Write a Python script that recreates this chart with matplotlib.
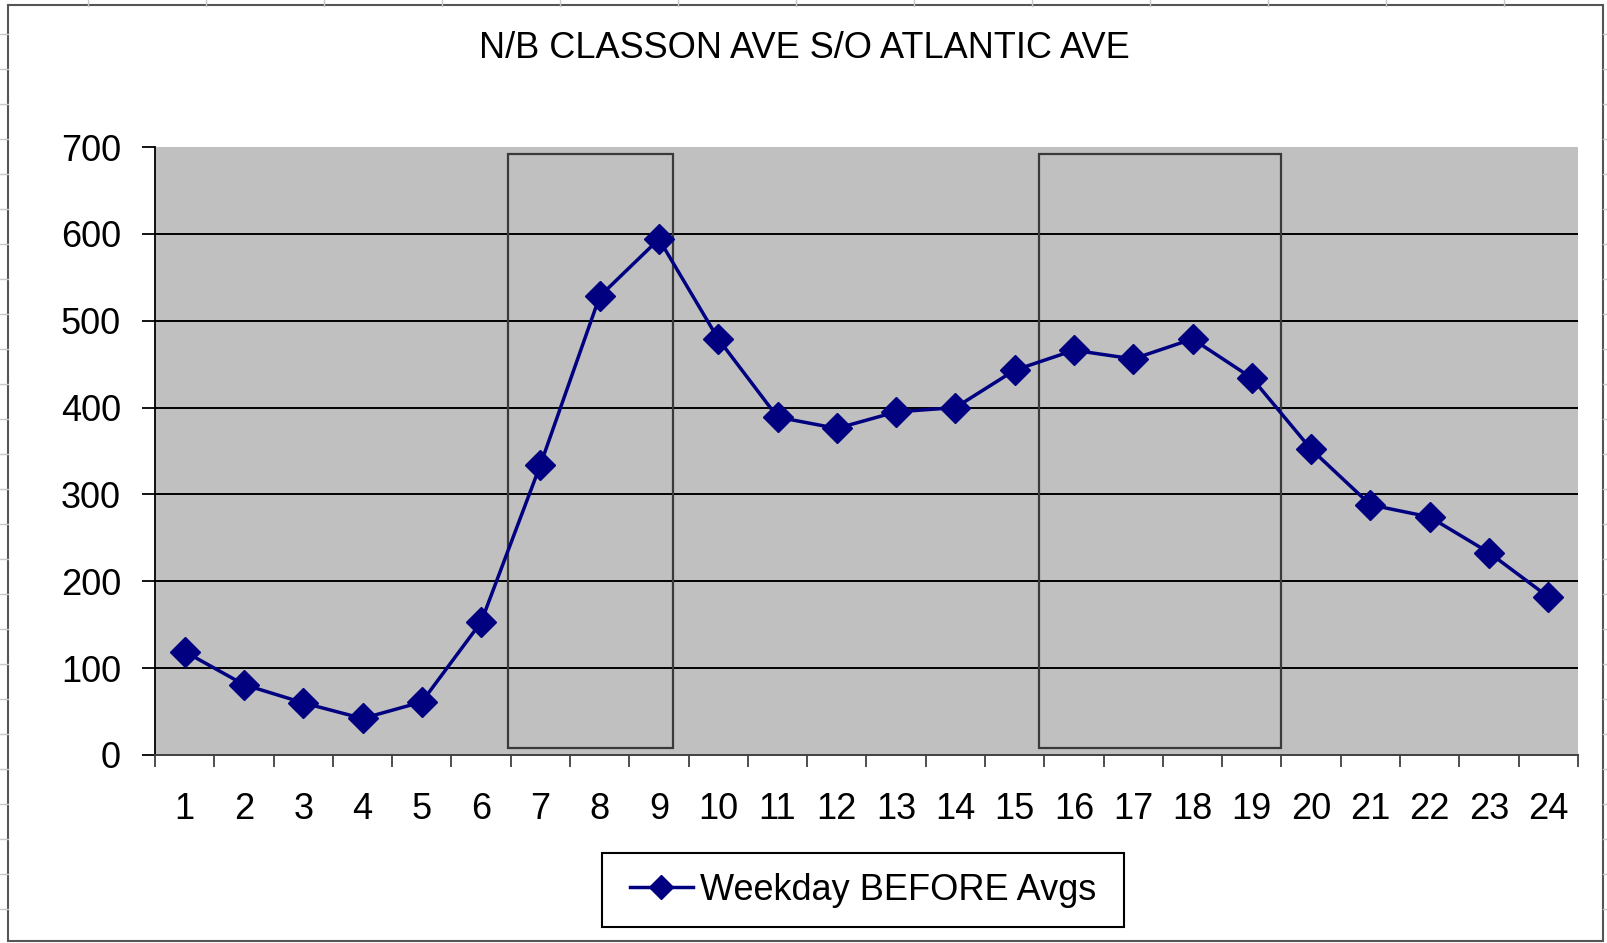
import matplotlib.pyplot as plt
from matplotlib.lines import Line2D
from matplotlib.patches import Rectangle

plt.rcParams['font.family'] = ['Liberation Sans', 'DejaVu Sans']

title = "N/B CLASSON AVE S/O ATLANTIC AVE"
series_label = "Weekday BEFORE Avgs"

hours = list(range(1, 25))
weekday_before = [119, 81, 60, 42, 61, 153, 334, 528, 594, 479, 389, 376,
                  395, 400, 443, 466, 456, 479, 434, 352, 288, 274, 233, 182]

y_ticks = [0, 100, 200, 300, 400, 500, 600, 700]

# peak period boxes drawn on the chart (hour axis, value axis)
peak_boxes_x = [(6.45, 9.24), (15.41, 19.5)]
peak_boxes_y = (8, 692)

navy = "#000080"
plot_bg = "#C0C0C0"

W, H = 1608, 943


def px(x, y):
    # pixel position (from top left) -> figure fraction
    return x / W, 1 - y / H


def plot_counts(filename):
    fig = plt.figure(figsize=(W / 100, H / 100), dpi=100)

    # spreadsheet cell lines peeking out around the chart
    for x in range(88, W, 118):
        fig.add_artist(Line2D([x / W, x / W], [1 - 6 / H, 1], color="#c8c8c8", lw=1))
    for y in range(34, H, 35):
        fig.add_artist(Line2D([0, 8 / W], [1 - y / H, 1 - y / H], color="#c8c8c8", lw=1))
        fig.add_artist(Line2D([1603 / W, 1], [1 - y / H, 1 - y / H], color="#c8c8c8", lw=1))

    ax = fig.add_axes([0.0964, 0.1994, 0.8849, 0.6447])
    ax.set_facecolor(plot_bg)

    ax.plot(hours, weekday_before, color=navy, lw=2.5, marker="D",
            markersize=15, markerfacecolor=navy, markeredgecolor=navy,
            label=series_label, zorder=4)

    for x0, x1 in peak_boxes_x:
        ax.add_patch(Rectangle((x0, peak_boxes_y[0]), x1 - x0,
                               peak_boxes_y[1] - peak_boxes_y[0],
                               fill=False, edgecolor="#3a3a3a", lw=1.6, zorder=3))

    ax.set_xlim(0.5, 24.5)
    ax.set_ylim(0, 700)

    # y axis
    ax.set_yticks(y_ticks)
    ax.tick_params(axis="y", direction="out", length=9.5, width=1.3,
                   pad=15, labelsize=26)
    ax.yaxis.grid(True, color="black", lw=1.4)
    ax.set_axisbelow(True)
    ax.get_ygridlines()[0].set_visible(False)
    ax.get_ygridlines()[-1].set_visible(False)

    # x axis: ticks between categories, labels on categories
    ax.set_xticks([h - 0.5 for h in hours] + [24.5])
    ax.set_xticklabels([])
    ax.set_xticks(hours, minor=True)
    ax.set_xticklabels([str(h) for h in hours], minor=True)
    ax.tick_params(axis="x", which="major", direction="out", length=8.5,
                   width=1.3, color="#404040")
    ax.tick_params(axis="x", which="minor", length=0, pad=26.5, labelsize=26)

    for side in ["top", "right"]:
        ax.spines[side].set_visible(False)
    ax.spines["left"].set_color("black")
    ax.spines["left"].set_linewidth(1.3)
    ax.spines["bottom"].set_color("#404040")
    ax.spines["bottom"].set_linewidth(1.4)

    fig.text(0.5, 0.9385, title, ha="center", va="baseline", fontsize=26)

    # legend contents, with an Excel style box around them
    handle = Line2D([], [], color=navy, lw=2.5, marker="D", markersize=12.5,
                    markerfacecolor=navy, markeredgecolor=navy)
    fig.legend([handle], [series_label], loc="center",
               bbox_to_anchor=px(863, 890), fontsize=26, frameon=False,
               handlelength=1.75, handletextpad=0.2, borderpad=0,
               borderaxespad=0)
    x0, y1 = px(602, 853)
    x1, y0 = px(1124, 927)
    fig.add_artist(Rectangle((x0, y0), x1 - x0, y1 - y0, fill=False,
                             edgecolor="black", lw=1.5,
                             transform=fig.transFigure))

    # chart area border
    x0, y1 = px(8, 5)
    x1, y0 = px(1603, 941)
    fig.add_artist(Rectangle((x0, y0), x1 - x0, y1 - y0, fill=True,
                             facecolor="white", edgecolor="#555555", lw=1.5,
                             transform=fig.transFigure, zorder=-5))

    plt.savefig(filename, dpi=100)
    plt.close()


if __name__ == "__main__":
    plot_counts("out.png")
